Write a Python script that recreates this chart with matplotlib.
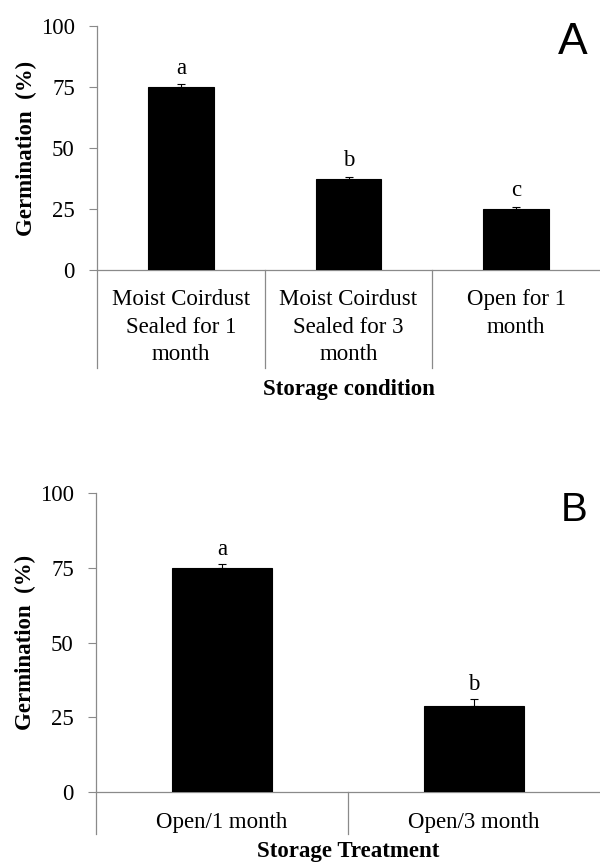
import matplotlib
matplotlib.use("Agg")
import matplotlib.pyplot as plt
from matplotlib.transforms import blended_transform_factory

# Panel A data
cats_a = ["Moist Coirdust\nSealed for 1\nmonth", "Moist Coirdust\nSealed for 3\nmonth", "Open for 1\nmonth"]
vals_a = [75.0, 37.3, 24.9]
errs_a = [1.2, 0.9, 1.0]
letters_a = ["a", "b", "c"]

# Panel B data
cats_b = ["Open/1 month", "Open/3 month"]
vals_b = [75.0, 28.8]
errs_b = [1.1, 2.2]
letters_b = ["a", "b"]

yticks = [0, 25, 50, 75, 100]

SERIF = "Liberation Serif"
SANS = "Liberation Sans"
GRAY = "#8a8a8a"
FS = 16.5

fig = plt.figure(figsize=(6.0, 8.63), dpi=100)

def panel(rect, cats, vals, errs, letters, width, xlabel, xlabel_y, div_bottom, tag, tag_fs, tag_xy, letter_off):
    ax = fig.add_axes(rect)
    n = len(cats)
    x = list(range(n))
    ax.bar(x, vals, width=width, color="black", edgecolor="black", linewidth=0.8, zorder=3)
    ax.errorbar(x, vals, yerr=[[0]*n, errs], fmt="none", ecolor="black",
                elinewidth=0.8, capsize=3, capthick=0.8, zorder=4)
    for xi, v, e, l in zip(x, vals, errs, letters):
        ax.annotate(l, (xi, v + e), xytext=(0, letter_off), textcoords="offset points",
                    ha="center", va="baseline", fontsize=FS, fontfamily=SERIF)
    ax.set_xlim(-0.5, n - 0.5)
    ax.set_ylim(0, 100)
    ax.set_yticks(yticks)
    ax.set_yticklabels([str(t) for t in yticks], fontfamily=SERIF, fontsize=FS)
    ax.tick_params(axis="y", direction="out", length=6, width=0.8, color=GRAY, pad=10)
    ax.set_xticks(x)
    ax.set_xticklabels(cats, fontfamily=SERIF, fontsize=FS, linespacing=1.38)
    ax.tick_params(axis="x", length=0, pad=14)
    for s in ["top", "right"]:
        ax.spines[s].set_visible(False)
    for s in ["left", "bottom"]:
        ax.spines[s].set_color(GRAY)
        ax.spines[s].set_linewidth(0.9)
    trans = blended_transform_factory(ax.transData, ax.transAxes)
    for b in [i - 0.5 for i in range(n)]:
        ax.plot([b, b], [0, div_bottom], transform=trans, color=GRAY, lw=0.9, clip_on=False)
    ax.text(0.5, xlabel_y, xlabel, transform=ax.transAxes, ha="center", va="center",
            fontsize=FS, fontfamily=SERIF, fontweight="bold")
    ax.text(-0.14, 0.5, "Germination  (%)", transform=ax.transAxes, ha="center", va="center",
            rotation=90, fontsize=FS, fontfamily=SERIF, fontweight="bold")
    fig.text(tag_xy[0], tag_xy[1], tag, ha="center", va="center", fontsize=tag_fs, fontfamily=SANS)
    return ax

panel([97/600, 1 - 270/863, 503/600, 244/863], cats_a, vals_a, errs_a, letters_a, 0.39,
      "Storage condition", -0.488, -0.40, "A", 32, (573/600, 1 - 43/863), 7.5)
panel([96/600, 1 - 792.3/863, 504/600, 299.6/863], cats_b, vals_b, errs_b, letters_b, 0.40,
      "Storage Treatment", -0.196, -0.139, "B", 29, (574/600, 1 - 510/863), 6.5)

fig.savefig("out.png", dpi=100, facecolor="white")
